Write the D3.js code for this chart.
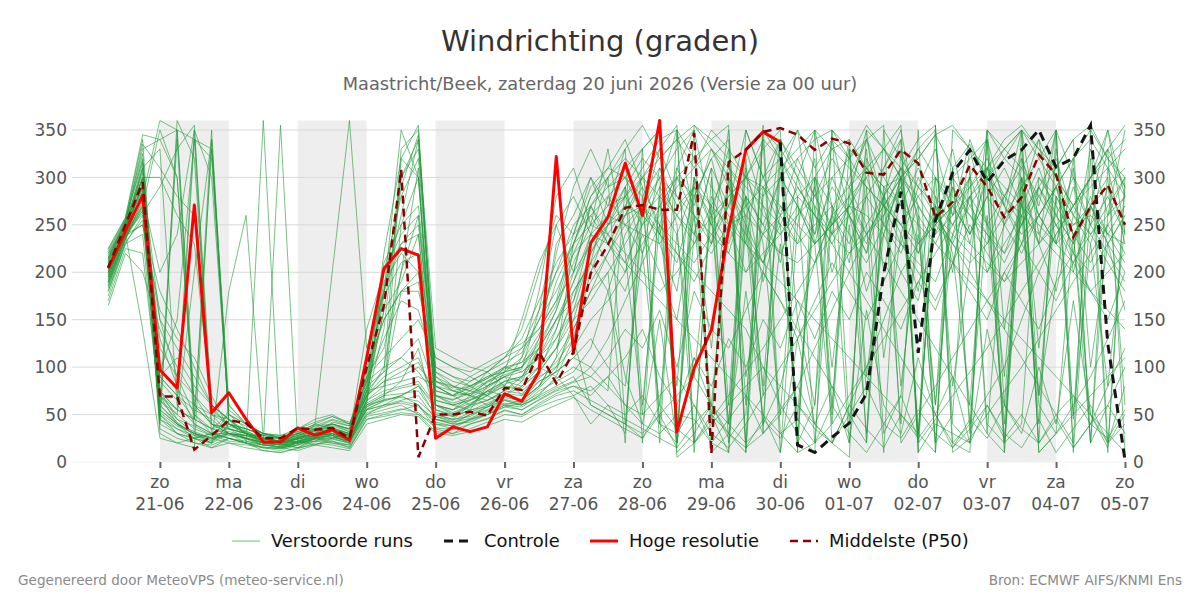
<!DOCTYPE html>
<html><head><meta charset="utf-8">
<script src="https://cdn.jsdelivr.net/npm/d3@7"></script>
<style>
html,body{margin:0;padding:0;background:#fff;}
svg{display:block;font-family:"DejaVu Sans",sans-serif;}
</style></head>
<body><svg id="c" width="1200" height="600"></svg>
<script>
// hours after 20-06-2026 00:00
const hours = [6,12,18,24,30,36,42,48,54,60,66,72,78,84,90,96,102,108,114,120,126,132,138,144,150,156,162,168,174,180,186,192,198,204,210,216,222,228,234,240,246,252,258,264,270,276,282,288,294,300,306,312,318,324,330,336,342,348,354,360];
const tickDates = ["2026-06-21","2026-06-22","2026-06-23","2026-06-24","2026-06-25","2026-06-26","2026-06-27","2026-06-28","2026-06-29","2026-06-30","2026-07-01","2026-07-02","2026-07-03","2026-07-04","2026-07-05"];
const tickDays = ["zo","ma","di","wo","do","vr","za","zo","ma","di","wo","do","vr","za","zo"];
const tickLabels = ["21-06","22-06","23-06","24-06","25-06","26-06","27-06","28-06","29-06","30-06","01-07","02-07","03-07","04-07","05-07"];
const shadedDays = ["2026-06-21","2026-06-23","2026-06-25","2026-06-27","2026-06-29","2026-07-01","2026-07-03"];
const yTicks = [0,50,100,150,200,250,300,350];

const hres = [204,243,281,97,78,271,52,73,45,21,21,36,28,34,23,110,204,225,218,25,37,32,37,72,64,95,322,115,231,258,315,260,360,32,99,139,245,329,348,337];
// control starts at hour 240
const controlStart = 39;
const control = [337,18,10,26,41,72,199,285,115,255,305,329,295,318,329,350,311,320,355,125,2];
const p50 = [205,250,295,69,69,13,28,44,41,25,25,36,34,36,25,100,165,308,5,50,50,53,49,78,76,116,83,116,199,229,268,271,266,266,347,9,316,329,348,352,345,329,341,336,305,303,329,315,258,274,313,290,258,279,324,303,237,269,292,250];

const members = [
[205,248,300,150,120,90,60,45,30,20, 18,25,32,28,20,65,75,80,85,60, 55,62,70,85,90,110,150,170,240,260, 280,250,270,300,280,320,340,20,40,80, 150,210,260,280,300,250,230,210,190,240, 270,300,330,350,10,30,60,90,130,170],
[190,240,270,350,300,60,40,30,25,18, 22,30,25,35,30,80,180,300,340,70, 60,55,80,90,70,95,120,180,210,280, 300,330,350,10,30,60,250,260,240,220, 210,230,250,270,260,240,200,170,250,300, 320,340,20,40,300,280,250,260,240,230],
[220,255,320,45,30,25,20,55,40,25, 20,15,22,30,25,55,60,65,70,45, 40,50,55,65,60,70,80,90,60,50, 40,30,50,70,90,60,40,20,350,330, 300,270,240,260,280,310,340,10,40,30, 20,350,320,300,260,230,210,240,270,300],
[200,245,280,200,240,350,60,45,30,22, 20,30,40,35,28,90,120,200,310,50, 45,60,75,70,85,100,130,160,220,250, 270,260,240,220,200,180,160,140,100,60, 30,10,350,320,290,270,250,280,300,280, 260,240,220,250,280,310,340,20,60,100],
[180,230,260,150,90,50,30,25,20,15, 15,20,25,22,18,70,85,90,100,80, 75,70,85,95,100,130,190,230,280,300, 320,300,280,260,240,220,250,270,290,310, 330,350,20,60,100,150,200,230,260,240, 220,200,230,260,290,250,210,180,200,220],
[215,250,290,30,20,15,340,40,35,28, 25,35,45,50,40,60,200,240,260,90, 80,75,70,60,65,80,110,140,180,200, 230,260,280,300,320,340,355,15,30,50, 80,120,160,200,240,270,300,330,350,20, 40,70,100,150,200,240,270,300,320,340],
[195,242,310,90,70,55,45,30,20,360, 20,25,30,40,35,100,150,180,180,110, 100,90,80,100,120,140,170,200,230,260, 250,240,230,260,290,270,250,230,210,190, 170,150,130,110,90,70,50,30,10,350, 330,310,290,270,250,230,250,270,290,310],
[170,225,220,60,40,30,25,20,18,15, 12,18,25,30,22,50,55,60,50,40, 35,45,50,60,55,65,75,80,70,90, 60,40,30,50,45,20,10,350,300,320, 280,300,330,340,310,290,300,320,345,355, 330,300,270,240,260,290,320,340,310,280],
[225,258,345,340,350,60,40,35,30,22, 20,22,18,25,30,75,190,220,200,60, 50,60,70,80,75,90,100,120,150,170, 200,230,260,290,310,330,300,270,240,260, 280,260,240,220,240,270,300,280,250,230, 210,230,260,290,320,350,15,40,80,120],
[205,240,250,180,140,100,60,35,30,25, 22,28,35,30,25,85,100,110,95,70, 65,75,95,110,120,160,200,230,250,240, 220,200,180,200,230,260,280,300,290,270, 250,230,250,270,240,210,180,150,120,90, 60,30,10,350,320,290,260,240,260,280],
[185,235,285,40,360,320,50,30,25,20, 18,20,28,32,25,55,65,320,300,55, 48,55,58,70,65,85,95,110,100,80, 60,50,70,90,60,30,15,40,70,100, 130,160,190,220,250,280,310,340,355,10, 25,50,75,100,130,160,190,220,250,280],
[210,252,305,70,50,200,340,60,40,30, 25,30,32,35,28,75,80,85,90,80, 70,80,90,100,105,120,160,210,250,270, 280,300,320,340,355,330,310,290,270,250, 230,250,270,290,310,330,300,270,240,260, 280,300,280,260,240,220,200,180,160,140],
[200,238,275,130,80,40,30,25,20,18, 15,12,18,22,15,45,50,55,60,35, 30,40,45,55,50,60,70,75,65,55, 45,35,25,15,355,340,320,300,280,300, 320,340,350,330,310,290,270,250,230,210, 190,170,150,130,110,90,70,50,30,10],
[195,245,300,300,260,230,60,45,30,25, 22,25,30,28,25,65,210,250,270,95, 85,80,90,95,110,150,180,220,240,230, 210,190,170,150,130,110,90,70,50,30, 10,350,330,310,290,270,250,230,250,270, 290,310,330,350,10,30,50,70,90,110],
[175,230,240,50,35,25,20,30,25,20, 18,15,25,20,18,50,60,70,60,40, 38,45,52,60,58,70,90,130,200,250, 280,310,340,350,320,290,260,230,200,170, 140,110,80,50,20,350,320,290,260,230, 200,170,140,110,80,50,20,350,320,290],
[215,255,330,340,300,50,35,30,28,22, 20,25,30,35,30,110,180,260,340,120, 110,100,95,105,115,150,200,250,270,290, 310,330,350,5,20,40,60,80,100,80, 60,40,20,5,350,330,310,290,270,250, 230,210,190,210,230,250,270,290,310,330],
[190,240,265,75,55,45,35,40,30,20, 15,18,25,28,20,60,70,72,75,50, 45,48,58,65,60,75,85,95,120,180, 240,270,300,330,350,10,30,10,350,320, 290,260,230,200,170,140,110,80,50,20, 10,350,330,310,280,250,220,200,230,260],
[220,250,280,360,350,340,330,60,40,30, 25,30,35,40,32,70,90,100,110,65, 60,65,72,80,78,95,140,190,230,250, 260,270,250,230,210,240,270,300,330,350, 10,20,40,70,100,130,160,190,220,250, 280,310,340,355,330,300,270,240,210,180],
[165,220,200,140,100,70,50,40,30,25, 20,24,28,30,26,80,95,110,130,75, 70,78,88,100,95,110,130,170,220,260, 290,320,300,280,260,240,220,200,220,240, 260,280,300,320,340,355,20,50,80,110, 140,170,200,230,260,290,320,350,20,50],
[208,243,295,85,65,350,300,50,35,28, 24,30,38,45,40,95,150,180,200,85, 75,70,65,75,90,120,150,180,210,240, 270,300,330,355,20,45,70,95,120,150, 180,210,240,270,300,330,355,20,45,70, 95,120,150,180,210,240,270,300,330,355],
[200,247,315,35,25,20,18,25,22,18, 16,20,22,25,20,55,60,62,58,45, 40,42,50,58,62,72,88,100,90,75, 290,60,250,80,300,270,40,310,230,50, 280,20,260,330,90,240,300,30,270,220, 60,310,250,280,40,330,200,270,350,240],
[212,250,285,120,90,70,40,30,25,20, 20,22,26,32,28,140,200,230,250,100, 90,85,95,110,130,170,210,240,260,280, 250,270,240,300,260,230,290,250,210,270, 240,210,260,230,280,250,220,270,240,290, 260,230,280,250,300,270,240,210,250,220],
[180,232,255,65,45,38,28,22,20,12, 10,14,20,18,14,45,48,52,50,32, 30,35,42,50,48,58,65,70,80,60, 50,70,40,30,60,20,45,70,30,55, 80,40,20,60,35,15,50,25,355,40, 20,60,30,15,45,10,35,60,20,40],
[198,240,262,290,330,355,40,35,30,25, 22,26,30,36,30,70,85,95,105,70, 62,68,78,90,95,110,140,200,270,300, 330,355,320,340,310,350,330,300,340,320, 350,310,340,320,355,330,300,320,345,310, 335,300,320,350,330,310,340,355,320,300],
[222,256,300,90,70,45,330,50,40,30, 28,32,40,48,42,60,65,70,80,60, 52,60,65,72,70,85,95,110,130,100, 80,220,60,240,90,260,40,280,70,230, 50,270,100,250,30,290,80,240,60,310, 40,260,90,300,120,280,50,230,80,250],
[188,236,270,55,40,32,25,30,28,20, 18,22,26,28,24,90,110,130,150,110, 100,95,105,115,125,140,170,240,290,310, 300,280,310,270,290,250,280,300,260,240, 270,230,250,280,240,260,290,230,250,270, 240,280,250,220,260,290,240,270,230,260],
[202,244,280,70,40,25,15,20,15,12, 10,15,18,15,12,40,45,50,48,30, 28,32,38,45,42,52,60,68,55,45, 35,25,50,15,40,60,25,50,355,30, 45,20,60,30,10,40,70,25,50,15, 35,60,25,50,20,45,15,40,60,30],
[218,253,335,310,280,260,55,40,32,26, 24,28,34,40,35,75,95,330,350,85, 80,75,85,95,100,125,160,220,260,230, 260,290,250,310,270,330,290,260,300,340, 310,280,320,290,340,300,270,310,280,250, 290,320,280,310,340,300,270,300,330,290],
[193,238,250,160,130,110,70,35,25,20, 18,22,28,26,22,65,80,180,190,80, 70,72,80,90,100,120,150,190,240,210, 180,240,200,150,260,120,300,90,200,340, 150,60,270,210,330,110,240,180,300,80, 210,350,140,260,70,190,320,100,230,160],
[205,246,292,45,340,30,22,38,32,22, 20,26,30,33,27,58,66,68,64,48, 42,46,54,62,60,68,78,85,100,130, 170,210,250,220,190,230,270,240,210,250, 290,260,230,270,310,280,250,220,260,300, 270,240,210,250,290,260,230,270,240,210],
[214,251,310,95,150,340,30,40,35,28, 25,20,30,42,38,85,130,170,160,95, 80,70,60,70,80,100,120,150,170,200, 20,330,40,350,10,300,60,320,30,340, 15,300,50,330,20,280,40,350,10,310, 30,340,60,300,20,350,45,320,10,290],
[183,234,278,50,30,20,15,25,20,16, 14,18,22,20,16,48,52,56,52,36, 34,40,46,54,50,62,72,80,75,90, 110,140,90,60,110,80,130,100,150,120, 170,130,180,150,200,170,140,190,160,210, 180,150,200,170,140,190,220,180,150,200],
[197,241,140,25,20,25,30,30,25,20, 355,20,40,200,360,120,180,230,240,60, 55,65,75,85,80,95,120,160,190,220, 250,220,270,240,290,260,230,280,250,300, 270,240,290,260,230,280,310,260,230,270, 300,250,280,320,260,230,290,250,280,240],
[207,249,298,65,50,35,28,32,28,24, 20,24,28,30,26,62,72,78,82,55, 50,58,65,75,72,88,105,130,60,50, 40,25,60,35,20,50,30,15,45,25, 60,35,20,50,80,40,25,55,30,15, 45,25,60,35,20,50,70,40,25,55],
[212,247,288,75,55,340,320,45,33,24, 21,27,33,38,32,68,175,210,220,90, 75,80,88,98,105,135,165,230,270,240, 210,250,290,260,230,270,310,280,250,220, 260,300,270,240,210,250,290,330,300,270, 240,280,310,270,230,260,300,270,230,200],
[186,237,268,60,42,28,20,180,260,25, 22,20,26,24,20,52,58,64,60,42, 38,44,50,58,55,66,76,84,90,110, 140,120,160,100,180,140,120,160,200,170, 130,170,210,180,150,190,230,200,170,210, 250,220,190,230,200,170,210,250,220,190],
[210,250,300,70,55,45,350,40,30,25, 22,28,35,40,35,80,220,320,355,60, 55,70,80,90,85,120,230,260,300,270, 330,20,290,350,260,40,300,230,340,10, 250,320,60,280,350,200,300,30,270,330, 240,300,10,280,340,230,310,20,260,350],
[195,244,310,330,60,40,30,25,20,15, 14,20,26,30,24,75,160,290,345,75, 70,85,95,80,110,180,280,310,250,330, 220,50,280,30,240,310,20,260,80,300, 350,230,40,290,250,10,330,270,60,240, 300,30,260,330,70,280,240,20,310,230],
[203,246,290,55,40,30,25,30,28,22, 20,24,30,34,28,65,140,300,330,100, 90,80,70,95,150,210,250,280,240,300, 40,260,300,20,280,230,350,60,290,250, 30,300,240,340,70,260,310,20,280,200, 330,250,40,290,230,350,10,270,300,60],
[214,253,325,75,45,30,20,40,35,30, 28,35,42,48,40,85,180,350,300,80, 70,60,75,85,90,100,90,70,40,60, 30,280,40,20,300,50,10,250,40,320, 20,60,350,40,290,30,70,260,20,50, 310,40,20,280,60,30,240,50,15,300],
[199,241,283,40,30,25,30,35,30,25, 20,26,34,36,30,70,100,200,260,65, 60,66,74,82,88,130,220,290,330,290, 300,260,330,280,240,310,270,350,300,260, 320,280,250,300,340,270,230,290,330,260, 300,340,270,230,290,320,260,300,350,280],
[216,254,318,100,75,60,50,45,38,30, 26,32,36,44,38,90,200,280,320,85, 78,90,100,110,140,200,260,240,300,250, 290,220,310,250,20,280,240,330,270,210, 300,240,340,260,220,310,350,250,20,290, 230,310,270,350,240,290,220,330,260,300],
[189,236,265,45,35,28,24,28,24,18, 16,20,24,26,22,58,68,250,300,52, 48,54,62,70,66,80,110,230,280,310, 340,290,20,310,350,260,330,10,280,340, 300,350,270,20,320,280,340,10,300,260, 340,290,20,320,270,350,300,250,330,10],
[224,257,340,60,350,45,35,50,40,30, 26,30,38,40,34,72,160,190,240,70, 66,72,84,92,98,160,250,200,270,230, 200,270,230,180,300,250,220,280,190,260, 230,290,200,260,180,240,300,220,270,210, 280,200,250,300,230,180,260,230,290,250],
[208,245,292,90,110,80,60,45,22,18, 16,22,28,30,24,60,70,85,120,45, 42,50,58,66,62,78,96,150,210,180, 90,40,150,20,110,60,30,180,50,10, 130,40,80,20,160,60,30,110,50,90, 20,140,60,30,100,40,170,50,20,80],
[192,239,272,52,38,30,26,30,26,20, 18,20,24,28,22,56,64,70,80,48, 44,52,60,68,64,80,100,140,180,220, 260,300,240,210,280,320,250,200,240,300, 270,230,300,260,220,280,240,300,260,230, 280,250,220,270,310,260,230,280,240,270]
];

const base = Date.UTC(2026,5,20,0,0);
const times = hours.map(h => new Date(base + h*3600e3));
const parseDay = s => new Date(s + "T00:00:00Z");

const L = 72, R = 1125, T = 120.5, B = 462;
const x = d3.scaleUtc().domain([new Date(Date.UTC(2026,5,19,17,24)), parseDay("2026-07-05")]).range([L, R]);
const y = d3.scaleLinear().domain([0,360]).range([B, T]);

const svg = d3.select("#c");

// shading
svg.append("g").selectAll("rect").data(shadedDays).join("rect")
  .attr("x", d => x(parseDay(d)))
  .attr("width", d => x(d3.utcDay.offset(parseDay(d),1)) - x(parseDay(d)))
  .attr("y", T).attr("height", B - T).attr("fill", "#eeeeee");

// grid
svg.append("g").selectAll("line").data(yTicks).join("line")
  .attr("x1", L).attr("x2", R).attr("y1", d => y(d)).attr("y2", d => y(d))
  .attr("stroke", d => d === 0 ? "#f0f0f0" : "#d9d9d9").attr("stroke-width", 1);

// y labels
const yl = svg.append("g").attr("fill", "#555").attr("font-size", 17);
yl.selectAll("text.l").data(yTicks).join("text").attr("class","l")
  .attr("x", 67).attr("y", d => y(d)).attr("dy", "0.36em").attr("text-anchor","end").text(d => d);
yl.selectAll("text.r").data(yTicks).join("text").attr("class","r")
  .attr("x", 1133).attr("y", d => y(d)).attr("dy", "0.36em").attr("text-anchor","start").text(d => d);

// x axis
const tickVals = tickDates.map(parseDay);
const xAxis = d3.axisBottom(x).tickValues(tickVals).tickSize(6).tickSizeOuter(0).tickFormat("");
const gx = svg.append("g").attr("transform", `translate(0,${B})`).call(xAxis);
gx.select(".domain").remove();
gx.selectAll(".tick line").attr("stroke", "#666").attr("stroke-width", 2);
const xl = svg.append("g").attr("fill", "#555").attr("font-size", 17).attr("text-anchor","middle");
xl.selectAll("text.d").data(tickVals).join("text").attr("class","d")
  .attr("x", d => x(d)).attr("y", 488).text((d,i) => tickDays[i]);
xl.selectAll("text.t").data(tickVals).join("text").attr("class","t")
  .attr("x", d => x(d)).attr("y", 510).text((d,i) => tickLabels[i]);

const line = d3.line().x(d => x(d[0])).y(d => y(d[1]));

// members
svg.append("g").selectAll("path").data(members).join("path")
  .attr("d", m => line(m.map((v,i) => [times[i], v])))
  .attr("fill","none").attr("stroke","#23993a").attr("stroke-opacity",0.6).attr("stroke-width",1);

// HRES
svg.append("path").attr("d", line(hres.map((v,i) => [times[i], v])))
  .attr("fill","none").attr("stroke","#ff0000").attr("stroke-width",3).attr("stroke-linejoin","round");
// control
svg.append("path").attr("d", line(control.map((v,i) => [times[i+controlStart], v])))
  .attr("fill","none").attr("stroke","#151515").attr("stroke-width",3).attr("stroke-dasharray","9,6");
// P50
svg.append("path").attr("d", line(p50.map((v,i) => [times[i], v])))
  .attr("fill","none").attr("stroke","#8b0000").attr("stroke-width",2.5).attr("stroke-dasharray","8,5");

// titles
svg.append("text").attr("x",600).attr("y",51).attr("text-anchor","middle").attr("font-size",29).attr("fill","#333").text("Windrichting (graden)");
svg.append("text").attr("x",600).attr("y",90).attr("text-anchor","middle").attr("font-size",17.8).attr("fill","#666").text("Maastricht/Beek, zaterdag 20 juni 2026 (Versie za 00 uur)");

// legend
const legend = [
  {label:"Verstoorde runs", x1:232, tx:271, color:"#66c266", w:1, dash:null},
  {label:"Controle", x1:444, tx:484, color:"#151515", w:3, dash:"9,6"},
  {label:"Hoge resolutie", x1:590, tx:629, color:"#ff0000", w:3, dash:null},
  {label:"Middelste (P50)", x1:790, tx:829, color:"#8b0000", w:2.5, dash:"8,5"}
];
const lg = svg.append("g");
legend.forEach(d => {
  lg.append("line").attr("x1",d.x1).attr("x2",d.x1+28).attr("y1",541).attr("y2",541)
    .attr("stroke",d.color).attr("stroke-width",d.w).attr("stroke-dasharray",d.dash);
  lg.append("text").attr("x",d.tx).attr("y",541).attr("dy","0.36em").attr("font-size",17.9).attr("fill","#111").text(d.label);
});

// footer
svg.append("text").attr("x",18).attr("y",585).attr("font-size",13.6).attr("fill","#8a8a8a").text("Gegenereerd door MeteoVPS (meteo-service.nl)");
svg.append("text").attr("x",1182).attr("y",585).attr("text-anchor","end").attr("font-size",13.6).attr("fill","#8a8a8a").text("Bron: ECMWF AIFS/KNMI Ens");
</script></body></html>
